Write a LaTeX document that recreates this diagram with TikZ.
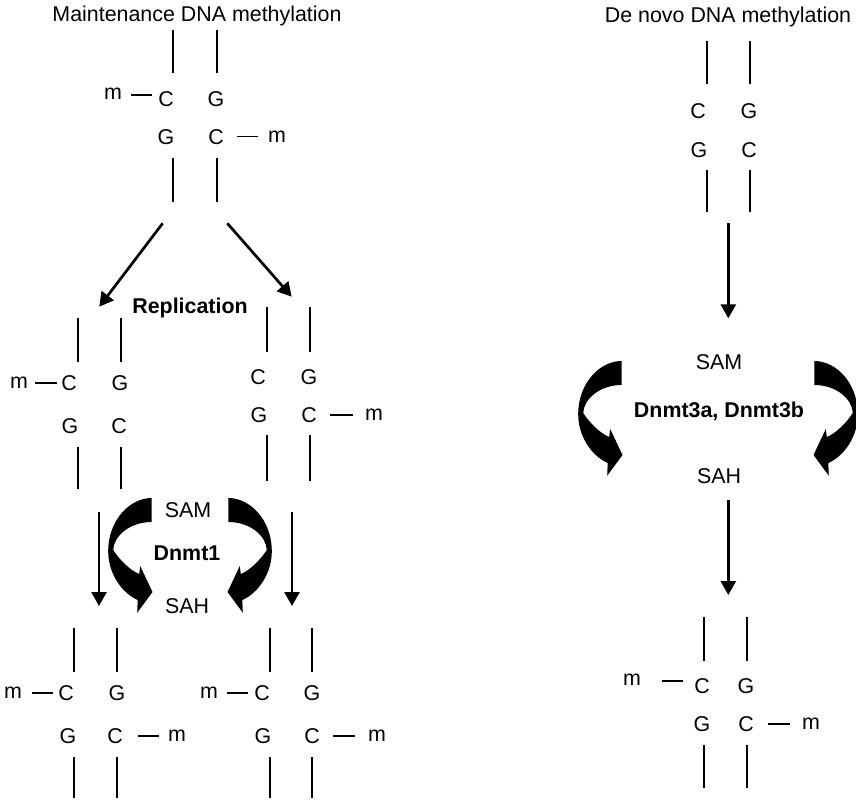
\documentclass[tikz,border=0pt]{standalone}
\usepackage{fontspec}
\setmainfont{Liberation Sans}
\usetikzlibrary{arrows.meta}
\tikzset{
  lbl/.style={font=\fontsize{21.4}{25}\selectfont, inner sep=0pt},
  bld/.style={font=\fontsize{21.4}{25}\selectfont\bfseries, inner sep=0pt},
  strand/.style={line width=2pt},
  bond/.style={line width=1.9pt},
  arr/.style={line width=2.7pt, -{Triangle[width=15pt,length=14pt]}},
  curvedarrow/.pic={
    \fill (0,0) -- (0,24)
      .. controls (-22,24) and (-38,38) .. (-38.5,52)
      .. controls (-32,62) and (-22,72) .. (-12.5,76)
      -- (-11.5,68) -- (0.8,94) -- (-14.5,114.7) -- (-14,102)
      .. controls (-30,95) and (-44,75) .. (-43.5,52)
      .. controls (-43,22) and (-22,0) .. (0,0) -- cycle;
  }
}
\begin{document}
\begin{tikzpicture}[x=1pt,y=-1pt]
\useasboundingbox (0,0) rectangle (856,801);

% titles
\node[lbl,anchor=base] (title1) at (197,21.5) {Maintenance DNA methylation};
\node[lbl,anchor=base] (title2) at (728,22.5) {De novo DNA methylation};

% ---------- M0: top-left molecule
\draw[strand] (173,30) -- (173,73) (217,30) -- (217,73)
              (173,158) -- (173,202) (217,158) -- (217,202);
\node[lbl] (m0m1) at (113,94) {m};
\node[lbl] (m0c1) at (166,99) {C};
\node[lbl] (m0g1) at (216,99) {G};
\node[lbl] (m0g2) at (166,137) {G};
\node[lbl] (m0c2) at (216,137) {C};
\node[lbl] (m0m2) at (277,137) {m};
\draw[bond] (131,95) -- (152,95) (237,136.5) -- (258,136.5);

% ---------- M1: middle-left molecule
\draw[strand] (78,318) -- (78,362) (121,318) -- (121,362)
              (78,447) -- (78,489) (121,447) -- (121,489);
\node[lbl] (m1m1) at (19,383) {m};
\node[lbl] (m1c1) at (69,383) {C};
\node[lbl] (m1g1) at (120,383) {G};
\node[lbl] (m1g2) at (70,426) {G};
\node[lbl] (m1c2) at (119,426) {C};
\draw[bond] (35,383) -- (57,383);

% ---------- M2: middle-right molecule
\draw[strand] (267,307) -- (267,352) (310,307) -- (310,352)
              (267,435) -- (267,481) (310,435) -- (310,481);
\node[lbl] (m2c1) at (258,377) {C};
\node[lbl] (m2g1) at (309,377) {G};
\node[lbl] (m2g2) at (259,415) {G};
\node[lbl] (m2c2) at (309,415) {C};
\node[lbl] (m2m2) at (374,415) {m};
\draw[bond] (330,415) -- (353,415);

% ---------- M3: bottom-left molecule A
\draw[strand] (74,628) -- (74,672) (117,628) -- (117,672)
              (74,757) -- (74,798) (117,757) -- (117,798);
\node[lbl] (m3m1) at (13,693) {m};
\node[lbl] (m3c1) at (66,693) {C};
\node[lbl] (m3g1) at (117,693) {G};
\node[lbl] (m3g2) at (68,736) {G};
\node[lbl] (m3c2) at (115,736) {C};
\node[lbl] (m3m2) at (177,736) {m};
\draw[bond] (32,693) -- (53,693) (138,736) -- (159,736);

% ---------- M4: bottom-left molecule B
\draw[strand] (270,628) -- (270,672) (312,628) -- (312,672)
              (270,757) -- (270,798) (312,757) -- (312,798);
\node[lbl] (m4m1) at (209,693) {m};
\node[lbl] (m4c1) at (262,693) {C};
\node[lbl] (m4g1) at (312,693) {G};
\node[lbl] (m4g2) at (263,736) {G};
\node[lbl] (m4c2) at (312,736) {C};
\node[lbl] (m4m2) at (377,736) {m};
\draw[bond] (227,693) -- (248,693) (333,736) -- (355,736);

% ---------- M5: top-right molecule
\draw[strand] (707,41) -- (707,84) (750,41) -- (750,84)
              (707,170) -- (707,212) (750,170) -- (750,212);
\node[lbl] (m5c1) at (698,111) {C};
\node[lbl] (m5g1) at (749,111) {G};
\node[lbl] (m5g2) at (699,150) {G};
\node[lbl] (m5c2) at (749,150) {C};

% ---------- M6: bottom-right molecule
\draw[strand] (704,617) -- (704,661) (747,617) -- (747,661)
              (704,745) -- (704,788) (747,745) -- (747,788);
\node[lbl] (m6m1) at (632,680) {m};
\node[lbl] (m6c1) at (702,686) {C};
\node[lbl] (m6g1) at (746,686) {G};
\node[lbl] (m6g2) at (702,724) {G};
\node[lbl] (m6c2) at (746,724) {C};
\node[lbl] (m6m2) at (811,724) {m};
\draw[bond] (662,681) -- (683,681) (768,724) -- (790,724);

% ---------- labels
\node[bld,anchor=base] (repl) at (190,313) {Replication};
\node[lbl] (sam1) at (188,510) {SAM};
\node[bld] (dnmt1) at (187,553) {Dnmt1};
\node[lbl] (sah1) at (187,606) {SAH};
\node[lbl] (sam3) at (719,362) {SAM};
\node[bld,anchor=base] (dnmt3) at (719,417.5) {Dnmt3a, Dnmt3b};
\node[lbl] (sah3) at (719,476) {SAH};

% ---------- straight arrows
\coordinate (a1s) at (162.7,223.3); \coordinate (a1e) at (99.3,306.7);
\coordinate (a2s) at (227.3,223.3); \coordinate (a2e) at (291.7,296.7);
\coordinate (a3s) at (99,512);      \coordinate (a3e) at (99,606);
\coordinate (a4s) at (292,512);     \coordinate (a4e) at (292,606);
\coordinate (a5s) at (728.3,222.7); \coordinate (a5e) at (728.3,318.3);
\coordinate (a6s) at (728.3,500);   \coordinate (a6e) at (728.3,595);
\draw[arr] (a1s) -- (a1e);
\draw[arr] (a2s) -- (a2e);
\draw[arr] (a3s) -- (a3e);
\draw[arr] (a4s) -- (a4e);
\draw[arr] (a5s) -- (a5e);
\draw[arr] (a6s) -- (a6e);

% ---------- curved enzyme arrows
\pic at (151.7,498) {curvedarrow};
\pic[xscale=-1] at (228.3,498) {curvedarrow};
\pic at (621.7,361) {curvedarrow};
\pic[xscale=-1] at (814.3,361) {curvedarrow};
\end{tikzpicture}
\end{document}
